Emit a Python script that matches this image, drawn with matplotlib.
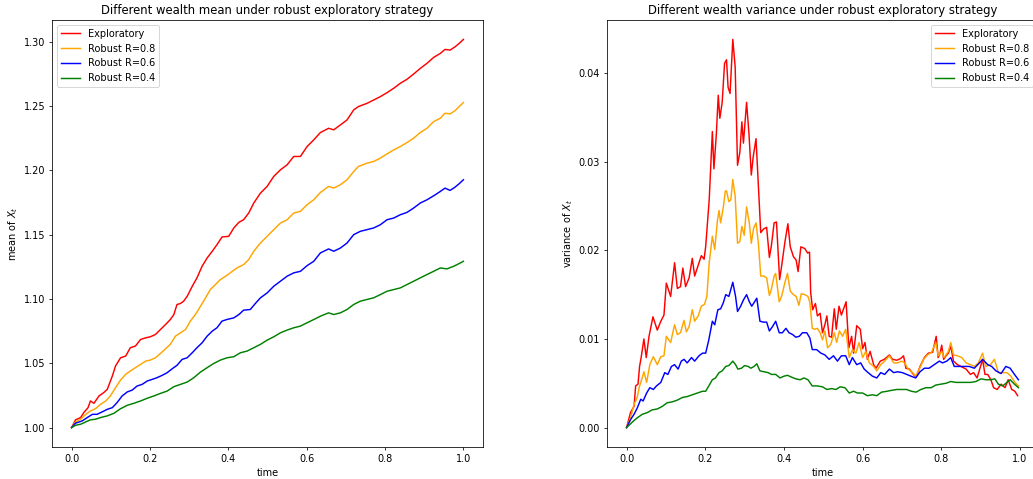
from matplotlib import pyplot as plt

# ---- mean of X_t (left panel) ----
t_mean_exp = [0, 0.010, 0.023, 0.031, 0.042, 0.048, 0.057, 0.070, 0.082, 0.091, 0.104, 0.112,
              0.125, 0.138, 0.150, 0.163, 0.176, 0.189, 0.201, 0.214, 0.227, 0.240, 0.252, 0.261,
              0.269, 0.278, 0.286, 0.295, 0.308, 0.320, 0.333, 0.346, 0.359, 0.371, 0.384, 0.401,
              0.414, 0.427, 0.439, 0.452, 0.465, 0.482, 0.499, 0.516, 0.533, 0.550, 0.567, 0.584,
              0.601, 0.618, 0.635, 0.656, 0.669, 0.686, 0.703, 0.720, 0.732, 0.754, 0.771, 0.788,
              0.805, 0.822, 0.839, 0.856, 0.873, 0.890, 0.907, 0.924, 0.941, 0.953, 0.966, 0.979,
              0.991, 1.000]
mean_exp = [1.0, 1.0060, 1.0078, 1.0116, 1.0155, 1.0207, 1.0189, 1.0246, 1.0272, 1.0297, 1.0401,
            1.0478, 1.0543, 1.0556, 1.0621, 1.0634, 1.0685, 1.0698, 1.0706, 1.0724, 1.0763, 1.0802,
            1.0840, 1.0879, 1.0957, 1.0965, 1.0983, 1.1021, 1.1099, 1.1164, 1.1254, 1.1319, 1.1371,
            1.1422, 1.1482, 1.1487, 1.1552, 1.1596, 1.1616, 1.1668, 1.1746, 1.1823, 1.1875, 1.1953,
            1.2004, 1.2043, 1.2108, 1.2108, 1.2185, 1.2237, 1.2294, 1.2327, 1.2315, 1.2353, 1.2392,
            1.2470, 1.2496, 1.2521, 1.2547, 1.2573, 1.2604, 1.2638, 1.2677, 1.2708, 1.2749, 1.2793,
            1.2832, 1.2878, 1.2909, 1.2940, 1.2935, 1.2961, 1.2992, 1.3018]

t_mean_r08 = [0, 0.010, 0.023, 0.036, 0.048, 0.061, 0.074, 0.087, 0.099, 0.112, 0.125, 0.138,
              0.150, 0.163, 0.176, 0.189, 0.201, 0.214, 0.227, 0.240, 0.252, 0.265, 0.278, 0.291,
              0.303, 0.316, 0.329, 0.342, 0.354, 0.367, 0.380, 0.393, 0.405, 0.422, 0.439, 0.452,
              0.465, 0.482, 0.499, 0.516, 0.533, 0.550, 0.567, 0.584, 0.601, 0.618, 0.635, 0.656,
              0.669, 0.686, 0.703, 0.720, 0.732, 0.754, 0.771, 0.788, 0.805, 0.822, 0.839, 0.856,
              0.873, 0.890, 0.907, 0.924, 0.941, 0.953, 0.966, 0.979, 0.991, 1.000]
mean_r08 = [1.0, 1.0044, 1.0065, 1.0103, 1.0129, 1.0147, 1.0181, 1.0207, 1.0246, 1.0310, 1.0370,
            1.0414, 1.0440, 1.0466, 1.0491, 1.0517, 1.0525, 1.0543, 1.0577, 1.0613, 1.0647, 1.0711,
            1.0737, 1.0763, 1.0828, 1.0879, 1.0944, 1.1009, 1.1073, 1.1112, 1.1151, 1.1177, 1.1203,
            1.1241, 1.1267, 1.1306, 1.1371, 1.1435, 1.1487, 1.1539, 1.1590, 1.1616, 1.1668, 1.1681,
            1.1733, 1.1771, 1.1828, 1.1875, 1.1862, 1.1888, 1.1927, 1.1991, 1.2030, 1.2056, 1.2069,
            1.2095, 1.2128, 1.2159, 1.2185, 1.2216, 1.2250, 1.2294, 1.2327, 1.2379, 1.2405, 1.2444,
            1.2439, 1.2465, 1.2501, 1.2527]

t_mean_r06 = [0, 0.010, 0.027, 0.040, 0.053, 0.065, 0.078, 0.091, 0.104, 0.116, 0.129, 0.142,
              0.155, 0.167, 0.180, 0.193, 0.206, 0.218, 0.231, 0.244, 0.257, 0.269, 0.282, 0.295,
              0.308, 0.320, 0.333, 0.346, 0.359, 0.371, 0.384, 0.397, 0.414, 0.427, 0.439, 0.456,
              0.469, 0.482, 0.499, 0.516, 0.533, 0.550, 0.567, 0.584, 0.601, 0.618, 0.635, 0.656,
              0.669, 0.686, 0.703, 0.720, 0.737, 0.754, 0.771, 0.788, 0.805, 0.822, 0.839, 0.856,
              0.873, 0.890, 0.907, 0.924, 0.941, 0.953, 0.966, 0.979, 0.991, 1.000]
mean_r06 = [1.0, 1.0034, 1.0052, 1.0078, 1.0103, 1.0103, 1.0122, 1.0142, 1.0155, 1.0194, 1.0246,
            1.0277, 1.0292, 1.0323, 1.0336, 1.0362, 1.0375, 1.0388, 1.0406, 1.0427, 1.0458, 1.0484,
            1.0530, 1.0543, 1.0582, 1.0621, 1.0659, 1.0711, 1.0750, 1.0776, 1.0828, 1.0841, 1.0853,
            1.0879, 1.0913, 1.0918, 1.0965, 1.1009, 1.1047, 1.1099, 1.1138, 1.1177, 1.1203, 1.1215,
            1.1259, 1.1293, 1.1358, 1.1389, 1.1371, 1.1396, 1.1435, 1.1500, 1.1526, 1.1539, 1.1552,
            1.1577, 1.1616, 1.1629, 1.1655, 1.1673, 1.1707, 1.1746, 1.1771, 1.1802, 1.1836, 1.1862,
            1.1844, 1.1870, 1.1901, 1.1927]

t_mean_r04 = [0, 0.010, 0.023, 0.036, 0.048, 0.061, 0.074, 0.091, 0.108, 0.125, 0.142, 0.159,
              0.176, 0.193, 0.210, 0.227, 0.244, 0.261, 0.278, 0.295, 0.312, 0.329, 0.346, 0.363,
              0.380, 0.397, 0.414, 0.431, 0.448, 0.465, 0.482, 0.499, 0.516, 0.533, 0.550, 0.567,
              0.584, 0.601, 0.618, 0.635, 0.656, 0.669, 0.686, 0.703, 0.720, 0.737, 0.754, 0.771,
              0.788, 0.805, 0.822, 0.839, 0.856, 0.873, 0.890, 0.907, 0.924, 0.941, 0.958, 0.975,
              0.987, 1.000]
mean_r04 = [1.0, 1.0018, 1.0026, 1.0044, 1.0060, 1.0065, 1.0078, 1.0091, 1.0111, 1.0147, 1.0173,
            1.0189, 1.0207, 1.0228, 1.0246, 1.0266, 1.0284, 1.0318, 1.0336, 1.0354, 1.0388, 1.0432,
            1.0466, 1.0499, 1.0525, 1.0543, 1.0551, 1.0582, 1.0595, 1.0621, 1.0647, 1.0680, 1.0706,
            1.0737, 1.0758, 1.0776, 1.0789, 1.0815, 1.0840, 1.0866, 1.0892, 1.0879, 1.0892, 1.0918,
            1.0957, 1.0983, 1.0996, 1.1009, 1.1034, 1.1060, 1.1073, 1.1086, 1.1112, 1.1138, 1.1164,
            1.1190, 1.1215, 1.1241, 1.1234, 1.1254, 1.1272, 1.1293]

# ---- variance of X_t (right panel) ----
t_var_exp = [0, 0.010, 0.019, 0.023, 0.029, 0.033, 0.037, 0.044, 0.050, 0.057, 0.067, 0.078,
             0.087, 0.095, 0.101, 0.112, 0.122, 0.129, 0.137, 0.143, 0.150, 0.159, 0.167, 0.173,
             0.181, 0.190, 0.197, 0.201, 0.210, 0.218, 0.222, 0.228, 0.233, 0.237, 0.243, 0.249,
             0.254, 0.258, 0.263, 0.270, 0.276, 0.282, 0.288, 0.293, 0.297, 0.305, 0.311, 0.317,
             0.322, 0.329, 0.335, 0.341, 0.348, 0.356, 0.363, 0.368, 0.375, 0.381, 0.389, 0.394,
             0.402, 0.410, 0.416, 0.424, 0.431, 0.436, 0.443, 0.453, 0.460, 0.465, 0.468, 0.473,
             0.480, 0.485, 0.492, 0.498, 0.504, 0.509, 0.515, 0.521, 0.528, 0.533, 0.540, 0.546,
             0.558, 0.565, 0.572, 0.577, 0.585, 0.594, 0.600, 0.606, 0.612, 0.619, 0.628, 0.634,
             0.645, 0.655, 0.668, 0.676, 0.687, 0.697, 0.704, 0.710, 0.719, 0.729, 0.736, 0.746,
             0.757, 0.767, 0.778, 0.787, 0.792, 0.797, 0.801, 0.806, 0.812, 0.818, 0.824, 0.831,
             0.841, 0.850, 0.863, 0.874, 0.882, 0.891, 0.901, 0.905, 0.911, 0.918, 0.926, 0.933,
             0.942, 0.952, 0.962, 0.970, 0.979, 0.987, 0.994]
var_exp = [0, 0.0017, 0.0024, 0.0047, 0.0049, 0.0069, 0.0079, 0.0100, 0.0079, 0.0103, 0.0125,
           0.0110, 0.0120, 0.0127, 0.0163, 0.0148, 0.0186, 0.0157, 0.0159, 0.0180, 0.0159, 0.0169,
           0.0191, 0.0171, 0.0182, 0.0194, 0.0190, 0.0204, 0.0257, 0.0334, 0.0292, 0.0330, 0.0375,
           0.0349, 0.0367, 0.0411, 0.0415, 0.0384, 0.0377, 0.0438, 0.0407, 0.0296, 0.0311, 0.0345,
           0.0321, 0.0367, 0.0332, 0.0285, 0.0306, 0.0326, 0.0274, 0.0220, 0.0224, 0.0226, 0.0192,
           0.0205, 0.0231, 0.0232, 0.0167, 0.0182, 0.0208, 0.0230, 0.0204, 0.0193, 0.0189, 0.0176,
           0.0204, 0.0202, 0.0197, 0.0198, 0.0152, 0.0133, 0.0140, 0.0126, 0.0129, 0.0107, 0.0116,
           0.0126, 0.0103, 0.0102, 0.0134, 0.0111, 0.0137, 0.0127, 0.0142, 0.0090, 0.0103, 0.0084,
           0.0115, 0.0111, 0.0089, 0.0096, 0.0077, 0.0086, 0.0071, 0.0067, 0.0075, 0.0077, 0.0082,
           0.0077, 0.0076, 0.0078, 0.0081, 0.0067, 0.0066, 0.0060, 0.0057, 0.0069, 0.0079, 0.0084,
           0.0085, 0.0103, 0.0079, 0.0084, 0.0093, 0.0077, 0.0081, 0.0084, 0.0092, 0.0075, 0.0071,
           0.0069, 0.0066, 0.0060, 0.0062, 0.0056, 0.0071, 0.0077, 0.0060, 0.0060, 0.0054, 0.0045,
           0.0043, 0.0049, 0.0045, 0.0054, 0.0043, 0.0041, 0.0036]

t_var_r08 = [0, 0.010, 0.019, 0.027, 0.033, 0.037, 0.044, 0.051, 0.059, 0.068, 0.078, 0.087,
             0.095, 0.101, 0.112, 0.122, 0.129, 0.137, 0.146, 0.152, 0.159, 0.167, 0.173, 0.182,
             0.190, 0.198, 0.204, 0.210, 0.218, 0.224, 0.231, 0.235, 0.239, 0.246, 0.251, 0.254,
             0.260, 0.265, 0.270, 0.276, 0.282, 0.288, 0.293, 0.299, 0.305, 0.312, 0.317, 0.323,
             0.329, 0.335, 0.341, 0.349, 0.356, 0.363, 0.368, 0.375, 0.379, 0.388, 0.394, 0.402,
             0.409, 0.416, 0.424, 0.431, 0.438, 0.444, 0.453, 0.461, 0.466, 0.472, 0.478, 0.485,
             0.492, 0.498, 0.504, 0.511, 0.519, 0.528, 0.534, 0.541, 0.549, 0.557, 0.566, 0.574,
             0.583, 0.591, 0.600, 0.608, 0.617, 0.628, 0.636, 0.646, 0.656, 0.668, 0.679, 0.689,
             0.699, 0.707, 0.716, 0.727, 0.735, 0.744, 0.755, 0.765, 0.775, 0.786, 0.792, 0.801,
             0.807, 0.818, 0.824, 0.831, 0.841, 0.852, 0.863, 0.874, 0.884, 0.894, 0.905, 0.913,
             0.925, 0.935, 0.945, 0.956, 0.967, 0.977, 0.987, 0.996]
var_r08 = [0, 0.0011, 0.0026, 0.0034, 0.0047, 0.0052, 0.0063, 0.0051, 0.0071, 0.0080, 0.0071,
           0.0080, 0.0081, 0.0103, 0.0096, 0.0116, 0.0105, 0.0107, 0.0121, 0.0108, 0.0114, 0.0133,
           0.0120, 0.0126, 0.0137, 0.0139, 0.0148, 0.0186, 0.0216, 0.0201, 0.0234, 0.0245, 0.0231,
           0.0249, 0.0267, 0.0267, 0.0255, 0.0257, 0.0280, 0.0261, 0.0208, 0.0210, 0.0227, 0.0217,
           0.0249, 0.0231, 0.0208, 0.0225, 0.0231, 0.0208, 0.0171, 0.0171, 0.0169, 0.0149, 0.0156,
           0.0171, 0.0174, 0.0142, 0.0148, 0.0163, 0.0174, 0.0154, 0.0150, 0.0148, 0.0138, 0.0151,
           0.0150, 0.0148, 0.0141, 0.0112, 0.0111, 0.0112, 0.0107, 0.0099, 0.0109, 0.0090, 0.0094,
           0.0107, 0.0096, 0.0109, 0.0103, 0.0111, 0.0079, 0.0088, 0.0084, 0.0096, 0.0079, 0.0086,
           0.0073, 0.0069, 0.0064, 0.0071, 0.0075, 0.0081, 0.0073, 0.0073, 0.0075, 0.0073, 0.0066,
           0.0062, 0.0058, 0.0066, 0.0077, 0.0082, 0.0085, 0.0096, 0.0081, 0.0086, 0.0079, 0.0086,
           0.0096, 0.0082, 0.0081, 0.0079, 0.0073, 0.0071, 0.0069, 0.0073, 0.0084, 0.0069, 0.0071,
           0.0077, 0.0062, 0.0062, 0.0062, 0.0058, 0.0051, 0.0047]

t_var_r06 = [0, 0.010, 0.019, 0.027, 0.036, 0.042, 0.051, 0.059, 0.068, 0.076, 0.087, 0.097,
             0.105, 0.114, 0.122, 0.131, 0.139, 0.146, 0.154, 0.165, 0.173, 0.184, 0.193, 0.201,
             0.209, 0.218, 0.224, 0.232, 0.239, 0.246, 0.252, 0.260, 0.270, 0.277, 0.282, 0.290,
             0.297, 0.305, 0.312, 0.318, 0.324, 0.331, 0.339, 0.348, 0.356, 0.363, 0.371, 0.379,
             0.388, 0.396, 0.405, 0.413, 0.422, 0.430, 0.439, 0.447, 0.458, 0.466, 0.472, 0.483,
             0.494, 0.504, 0.515, 0.526, 0.536, 0.546, 0.557, 0.566, 0.574, 0.585, 0.595, 0.604,
             0.614, 0.625, 0.636, 0.646, 0.656, 0.668, 0.679, 0.689, 0.701, 0.712, 0.723, 0.735,
             0.746, 0.757, 0.769, 0.782, 0.795, 0.803, 0.814, 0.824, 0.833, 0.846, 0.858, 0.871,
             0.884, 0.897, 0.905, 0.918, 0.928, 0.939, 0.952, 0.964, 0.975, 0.986, 0.996]
var_r06 = [0, 0.0009, 0.0015, 0.0022, 0.0032, 0.0030, 0.0039, 0.0045, 0.0043, 0.0047, 0.0051,
           0.0062, 0.0060, 0.0069, 0.0071, 0.0066, 0.0075, 0.0077, 0.0073, 0.0079, 0.0075, 0.0081,
           0.0084, 0.0084, 0.0099, 0.0120, 0.0116, 0.0133, 0.0134, 0.0141, 0.0150, 0.0148, 0.0164,
           0.0148, 0.0131, 0.0137, 0.0144, 0.0150, 0.0142, 0.0137, 0.0141, 0.0146, 0.0120, 0.0119,
           0.0119, 0.0109, 0.0114, 0.0120, 0.0107, 0.0107, 0.0112, 0.0107, 0.0105, 0.0102, 0.0103,
           0.0107, 0.0107, 0.0101, 0.0088, 0.0088, 0.0084, 0.0082, 0.0077, 0.0081, 0.0075, 0.0081,
           0.0081, 0.0071, 0.0079, 0.0071, 0.0073, 0.0066, 0.0062, 0.0058, 0.0056, 0.0062, 0.0060,
           0.0066, 0.0062, 0.0063, 0.0062, 0.0060, 0.0058, 0.0056, 0.0063, 0.0067, 0.0067, 0.0071,
           0.0075, 0.0073, 0.0075, 0.0079, 0.0069, 0.0069, 0.0069, 0.0069, 0.0067, 0.0073, 0.0077,
           0.0071, 0.0069, 0.0064, 0.0061, 0.0069, 0.0067, 0.0060, 0.0054]

t_var_r04 = [0, 0.014, 0.027, 0.040, 0.053, 0.065, 0.078, 0.091, 0.103, 0.116, 0.129, 0.142,
             0.154, 0.167, 0.180, 0.193, 0.201, 0.209, 0.218, 0.226, 0.235, 0.243, 0.252, 0.260,
             0.270, 0.277, 0.283, 0.292, 0.300, 0.309, 0.316, 0.324, 0.331, 0.339, 0.349, 0.360,
             0.368, 0.379, 0.390, 0.400, 0.409, 0.419, 0.430, 0.441, 0.451, 0.461, 0.472, 0.485,
             0.498, 0.509, 0.521, 0.532, 0.543, 0.555, 0.566, 0.577, 0.587, 0.600, 0.612, 0.625,
             0.636, 0.648, 0.662, 0.673, 0.687, 0.699, 0.712, 0.724, 0.736, 0.748, 0.761, 0.774,
             0.786, 0.799, 0.812, 0.824, 0.837, 0.850, 0.863, 0.875, 0.888, 0.901, 0.913, 0.926,
             0.936, 0.945, 0.956, 0.967, 0.975, 0.986, 0.996]
var_r04 = [0, 0.0006, 0.0011, 0.0015, 0.0017, 0.0020, 0.0021, 0.0024, 0.0028, 0.0029, 0.0031,
           0.0034, 0.0035, 0.0037, 0.0039, 0.0041, 0.0041, 0.0047, 0.0054, 0.0056, 0.0062, 0.0064,
           0.0069, 0.0070, 0.0075, 0.0071, 0.0066, 0.0067, 0.0070, 0.0069, 0.0067, 0.0069, 0.0072,
           0.0064, 0.0063, 0.0062, 0.0060, 0.0060, 0.0056, 0.0058, 0.0059, 0.0057, 0.0055, 0.0054,
           0.0056, 0.0054, 0.0047, 0.0047, 0.0046, 0.0043, 0.0044, 0.0043, 0.0046, 0.0045, 0.0039,
           0.0041, 0.0039, 0.0039, 0.0036, 0.0037, 0.0036, 0.0040, 0.0041, 0.0042, 0.0043, 0.0043,
           0.0043, 0.0041, 0.0040, 0.0043, 0.0045, 0.0045, 0.0048, 0.0049, 0.0050, 0.0052, 0.0051,
           0.0051, 0.0051, 0.0051, 0.0052, 0.0055, 0.0054, 0.0054, 0.0055, 0.0049, 0.0047, 0.0051,
           0.0054, 0.0049, 0.0045]

labels = ['Exploratory', 'Robust R=0.8', 'Robust R=0.6', 'Robust R=0.4']
colors = ['red', 'orange', 'blue', 'green']

mean_series = [(t_mean_exp, mean_exp), (t_mean_r08, mean_r08),
               (t_mean_r06, mean_r06), (t_mean_r04, mean_r04)]
var_series = [(t_var_exp, var_exp), (t_var_r08, var_r08),
              (t_var_r06, var_r06), (t_var_r04, var_r04)]

fig = plt.figure(figsize=(1033 / 70, 479 / 70), dpi=70)
ax1 = fig.add_axes([52 / 1033, 32 / 479, 431 / 1033, 427 / 479])
ax2 = fig.add_axes([607 / 1033, 32 / 479, 431 / 1033, 427 / 479])

for (t, y), lab, c in zip(mean_series, labels, colors):
    ax1.plot(t, y, color=c, label=lab)
ax1.set_title('Different wealth mean under robust exploratory strategy')
ax1.set_xlabel('time')
ax1.set_ylabel('mean of $X_t$')
ax1.legend(loc='upper left')

for (t, y), lab, c in zip(var_series, labels, colors):
    ax2.plot(t, y, color=c, label=lab)
ax2.set_title('Different wealth variance under robust exploratory strategy')
ax2.set_xlabel('time')
ax2.set_ylabel('variance of $X_t$')
ax2.legend(loc='upper right')

plt.savefig('out.png', dpi=70)
